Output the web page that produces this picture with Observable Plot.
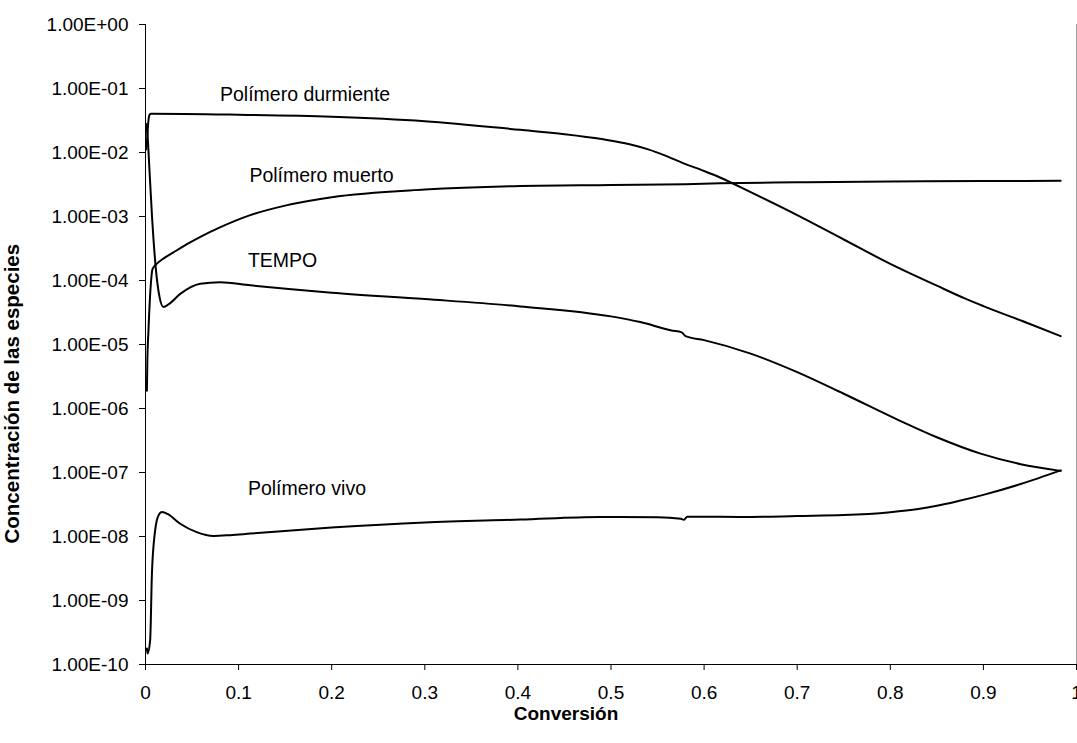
<!DOCTYPE html>
<html>
<head>
<meta charset="utf-8">
<script src="https://cdn.jsdelivr.net/npm/d3@7"></script>
<script src="https://cdn.jsdelivr.net/npm/@observablehq/plot@0.6"></script>
<style>
  html, body { margin: 0; padding: 0; background: #fff; }
  #chart svg { max-width: none !important; display: block; }
</style>
</head>
<body>
<div id="chart"></div>
<script>
// ---- Data (conversion vs. concentration) ----
const durmienteX = [0.0008, 0.002, 0.003, 0.0045, 0.006, 0.1, 0.2, 0.3, 0.4026, 0.45, 0.49, 0.52, 0.54, 0.557, 0.578, 0.6, 0.617, 0.65, 0.7, 0.75, 0.8, 0.85, 0.88, 0.9, 0.95, 0.983];
const durmienteY = [1.12e-2, 1.78e-2, 3.0e-2, 3.9e-2, 4.03e-2, 3.89e-2, 3.63e-2, 3.09e-2, 2.26e-2, 1.93e-2, 1.62e-2, 1.35e-2, 1.12e-2, 9.1e-3, 6.76e-3, 5.13e-3, 4.07e-3, 2.4e-3, 1.05e-3, 4.37e-4, 1.82e-4, 8.3e-5, 5.25e-5, 3.98e-5, 2.09e-5, 1.35e-5];

const muertoX = [0.0015, 0.002, 0.0032, 0.0055, 0.0075, 0.012, 0.02, 0.03, 0.045, 0.06, 0.08, 0.1125, 0.15, 0.2, 0.3, 0.4026, 0.5, 0.58, 0.617, 0.7, 0.8, 0.9, 0.983];
const muertoY = [1.9e-6, 5.6e-6, 1.66e-5, 7.9e-5, 1.51e-4, 1.82e-4, 2.24e-4, 2.75e-4, 3.72e-4, 4.9e-4, 6.76e-4, 1.05e-3, 1.48e-3, 2.0e-3, 2.63e-3, 2.99e-3, 3.1e-3, 3.2e-3, 3.3e-3, 3.42e-3, 3.52e-3, 3.58e-3, 3.62e-3];

const tempoX = [0.0008, 0.0025, 0.004, 0.007, 0.011, 0.015, 0.0193, 0.025, 0.0373, 0.0588, 0.08, 0.1125, 0.2, 0.3, 0.4026, 0.5, 0.5315, 0.565, 0.576, 0.58, 0.6, 0.65, 0.7, 0.75, 0.811, 0.85, 0.897, 0.94, 0.983];
const tempoY = [2.8e-2, 1.58e-2, 6.3e-3, 1.0e-3, 1.58e-4, 5.6e-5, 3.85e-5, 4.27e-5, 6.17e-5, 8.9e-5, 9.4e-5, 8.4e-5, 6.46e-5, 5.13e-5, 3.94e-5, 2.75e-5, 2.24e-5, 1.66e-5, 1.55e-5, 1.35e-5, 1.17e-5, 7.2e-6, 3.7e-6, 1.7e-6, 6.37e-7, 3.55e-7, 1.97e-7, 1.35e-7, 1.06e-7];

const vivoX = [0.0015, 0.0022, 0.005, 0.0069, 0.0104, 0.014, 0.0176, 0.025, 0.0373, 0.055, 0.073, 0.091, 0.1125, 0.2, 0.3, 0.4026, 0.488, 0.55, 0.575, 0.578, 0.582, 0.65, 0.7, 0.75, 0.8, 0.83, 0.85, 0.872, 0.9, 0.94, 0.983];
const vivoY = [1.78e-10, 1.48e-10, 2.4e-10, 2.63e-9, 1.26e-8, 2.14e-8, 2.42e-8, 2.19e-8, 1.58e-8, 1.17e-8, 1.02e-8, 1.05e-8, 1.11e-8, 1.38e-8, 1.66e-8, 1.84e-8, 2.02e-8, 2.0e-8, 1.9e-8, 1.82e-8, 2.04e-8, 2.02e-8, 2.09e-8, 2.16e-8, 2.4e-8, 2.69e-8, 3.02e-8, 3.55e-8, 4.47e-8, 6.6e-8, 1.08e-7];

const labelText = ["Polímero durmiente", "Polímero muerto", "TEMPO", "Polímero vivo"];
const labelX = [0.080, 0.1116, 0.110, 0.110];
const labelY = [7.9e-2, 4.3e-3, 2.0e-4, 5.6e-8];

const xTicks = [0, 0.1, 0.2, 0.3, 0.4, 0.5, 0.6, 0.7, 0.8, 0.9, 1];
const yTicks = [1, 1e-1, 1e-2, 1e-3, 1e-4, 1e-5, 1e-6, 1e-7, 1e-8, 1e-9, 1e-10];
const xTitle = "Conversión";
const yTitle = "Concentración de las especies";

// ---- Build tables ----
const series = [
  {name: "Polímero durmiente", xs: durmienteX, ys: durmienteY},
  {name: "Polímero muerto", xs: muertoX, ys: muertoY},
  {name: "TEMPO", xs: tempoX, ys: tempoY},
  {name: "Polímero vivo", xs: vivoX, ys: vivoY}
];
const rows = series.flatMap(s => s.xs.map((x, i) => ({serie: s.name, x, y: s.ys[i]})));
const labels = labelText.map((t, i) => ({t, x: labelX[i], y: labelY[i]}));

function fmtE(d) {
  const e = Math.round(Math.log10(d));
  return "1.00E" + (e < 0 ? "-" : "+") + String(Math.abs(e)).padStart(2, "0");
}
const fmtX = d => d === 0 ? "0" : d === 1 ? "1" : String(+d.toFixed(1));

const font = "'Liberation Sans', Arial, Helvetica, sans-serif";

const chart = Plot.plot({
  width: 1077,
  height: 743,
  marginLeft: 145,
  marginRight: 1,
  marginTop: 24,
  marginBottom: 79,
  style: {fontFamily: font, fontSize: "19px", color: "#000", background: "#fff", overflow: "visible"},
  x: {domain: [0, 1]},
  y: {type: "log", domain: [1e-10, 1]},
  marks: [
    Plot.ruleX([1], {stroke: "#a0a0a0", strokeWidth: 1}),
    Plot.axisY({ticks: yTicks, tickFormat: fmtE, tickSize: 6, tickPadding: 11, label: null, fontSize: 19, stroke: "#000"}),
    Plot.axisX({ticks: xTicks, tickFormat: fmtX, tickSize: 6, tickPadding: 15, label: null, fontSize: 19, stroke: "#000"}),
    Plot.ruleX([0], {stroke: "#000", strokeWidth: 1}),
    Plot.ruleY([1e-10], {stroke: "#000", strokeWidth: 1}),
    Plot.line(rows, {x: "x", y: "y", z: "serie", stroke: "#000", strokeWidth: 2, curve: "monotone-x"}),
    Plot.text(labels, {x: "x", y: "y", text: "t", textAnchor: "start", fontSize: 19.5, fill: "#000"}),
    Plot.text([xTitle], {frameAnchor: "bottom", dx: -45, dy: 55, fontSize: 19, fontWeight: "bold", fill: "#000"}),
    Plot.text([yTitle], {frameAnchor: "bottom-left", textAnchor: "start", rotate: -90, dx: -127, dy: -121, fontSize: 20.5, fontWeight: "bold", fill: "#000"})
  ]
});
document.getElementById("chart").appendChild(chart);
</script>
</body>
</html>
